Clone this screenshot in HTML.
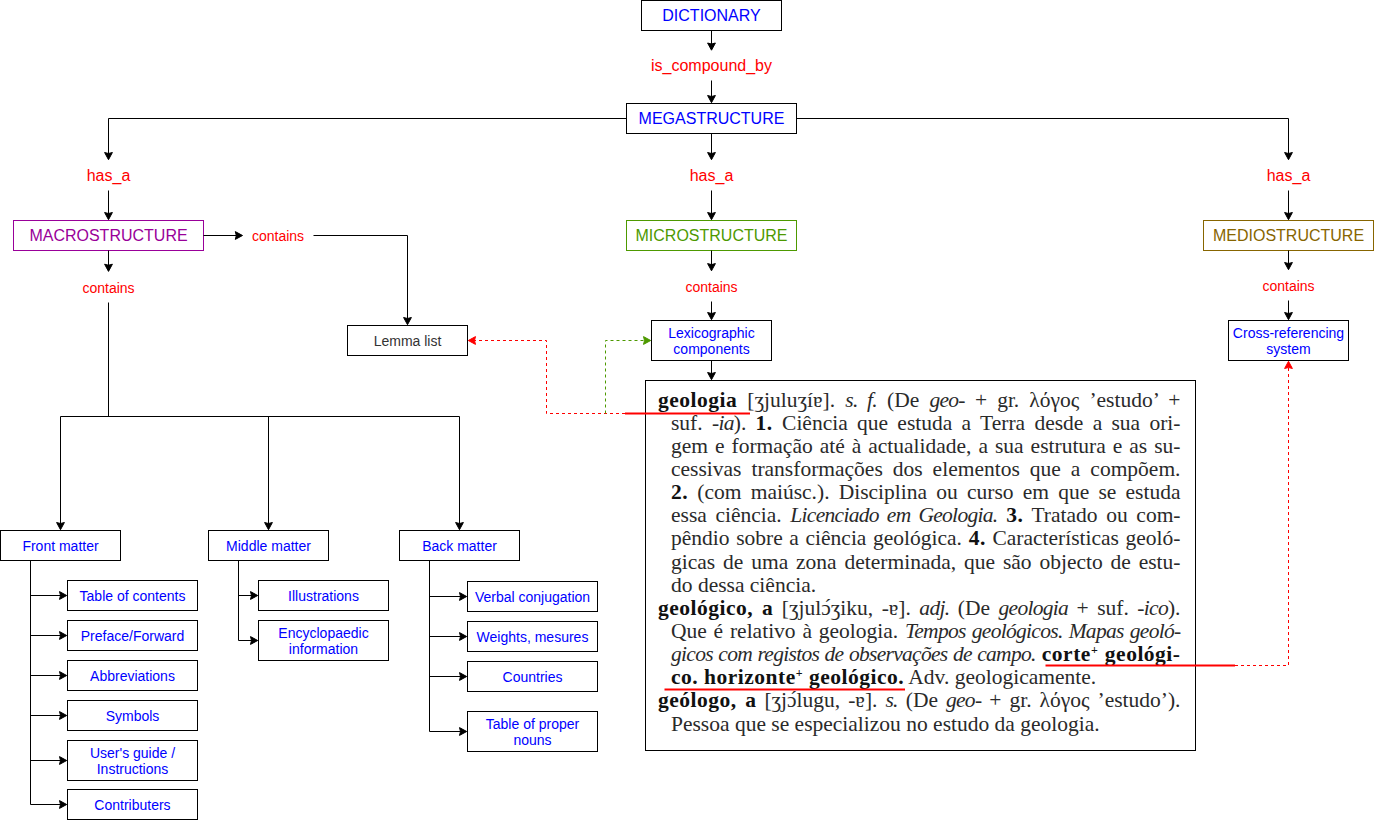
<!DOCTYPE html>
<html><head><meta charset="utf-8"><style>
html,body{margin:0;padding:0;background:#fff;width:1374px;height:820px;overflow:hidden}
svg{position:absolute;left:0;top:0}
svg text{font-family:"Liberation Sans",sans-serif}
.ln{position:absolute;font-family:"Liberation Serif",serif;font-size:21.5px;line-height:24px;color:#2a2a2a;white-space:nowrap}
.sp{font-size:12px;position:relative;top:-7px;line-height:0}
.ac{position:relative} .ac:after{content:'´';position:absolute;left:3px;top:-1px}
.ln b{letter-spacing:0.5px;color:#111} .ln i{letter-spacing:-0.7px}
</style></head><body>
<svg width="1374" height="820" viewBox="0 0 1374 820"><rect x="641.5" y="0.5" width="140" height="30" fill="#fff" stroke="#000" stroke-width="1"/><text x="711.5" y="21" fill="#0000FF" font-size="16" text-anchor="middle">DICTIONARY</text><path d="M 711.5 30.5 L 711.5 45.2" fill="none" stroke="#000" stroke-width="1"/><path d="M 711.5 50.2 L 707.6 43.0 L 711.5 44.0 L 715.4 43.0 Z" fill="#000" stroke="#000" stroke-width="1"/><text x="711.5" y="71" fill="#FF0000" font-size="16" text-anchor="middle">is_compound_by</text><path d="M 711.5 80.5 L 711.5 97.7" fill="none" stroke="#000" stroke-width="1"/><path d="M 711.5 102.7 L 707.6 95.5 L 711.5 96.5 L 715.4 95.5 Z" fill="#000" stroke="#000" stroke-width="1"/><rect x="626.5" y="103.5" width="170" height="30" fill="#fff" stroke="#000" stroke-width="1"/><text x="711.5" y="124" fill="#0000FF" font-size="16" text-anchor="middle">MEGASTRUCTURE</text><path d="M 626.5 118.5 L 108.5 118.5 L 108.5 154.7" fill="none" stroke="#000" stroke-width="1"/><path d="M 108.5 159.7 L 104.6 152.5 L 108.5 153.5 L 112.4 152.5 Z" fill="#000" stroke="#000" stroke-width="1"/><path d="M 711.5 133.5 L 711.5 154.7" fill="none" stroke="#000" stroke-width="1"/><path d="M 711.5 159.7 L 707.6 152.5 L 711.5 153.5 L 715.4 152.5 Z" fill="#000" stroke="#000" stroke-width="1"/><path d="M 796.5 118.5 L 1288.5 118.5 L 1288.5 154.7" fill="none" stroke="#000" stroke-width="1"/><path d="M 1288.5 159.7 L 1284.6 152.5 L 1288.5 153.5 L 1292.4 152.5 Z" fill="#000" stroke="#000" stroke-width="1"/><text x="108.5" y="181" fill="#FF0000" font-size="16" text-anchor="middle">has_a</text><path d="M 108.5 190.5 L 108.5 214.7" fill="none" stroke="#000" stroke-width="1"/><path d="M 108.5 219.7 L 104.6 212.5 L 108.5 213.5 L 112.4 212.5 Z" fill="#000" stroke="#000" stroke-width="1"/><text x="711.5" y="181" fill="#FF0000" font-size="16" text-anchor="middle">has_a</text><path d="M 711.5 190.5 L 711.5 214.7" fill="none" stroke="#000" stroke-width="1"/><path d="M 711.5 219.7 L 707.6 212.5 L 711.5 213.5 L 715.4 212.5 Z" fill="#000" stroke="#000" stroke-width="1"/><text x="1288.5" y="181" fill="#FF0000" font-size="16" text-anchor="middle">has_a</text><path d="M 1288.5 190.5 L 1288.5 214.7" fill="none" stroke="#000" stroke-width="1"/><path d="M 1288.5 219.7 L 1284.6 212.5 L 1288.5 213.5 L 1292.4 212.5 Z" fill="#000" stroke="#000" stroke-width="1"/><rect x="13.5" y="220.5" width="190" height="30" fill="#fff" stroke="#990099" stroke-width="1"/><text x="108.5" y="241" fill="#990099" font-size="16" text-anchor="middle">MACROSTRUCTURE</text><rect x="626.5" y="220.5" width="170" height="30" fill="#fff" stroke="#4D9900" stroke-width="1"/><text x="711.5" y="241" fill="#4D9900" font-size="16" text-anchor="middle">MICROSTRUCTURE</text><rect x="1203.5" y="220.5" width="170" height="30" fill="#fff" stroke="#876500" stroke-width="1"/><text x="1288.5" y="241" fill="#876500" font-size="16" text-anchor="middle">MEDIOSTRUCTURE</text><path d="M 203.5 235.5 L 237.5 235.5" fill="none" stroke="#000" stroke-width="1"/><path d="M 242.5 235.5 L 235.3 231.6 L 236.3 235.5 L 235.3 239.4 Z" fill="#000" stroke="#000" stroke-width="1"/><text x="278" y="241" fill="#FF0000" font-size="14" text-anchor="middle">contains</text><path d="M 313.5 235.5 L 407.5 235.5 L 407.5 319.7" fill="none" stroke="#000" stroke-width="1"/><path d="M 407.5 324.7 L 403.6 317.5 L 407.5 318.5 L 411.4 317.5 Z" fill="#000" stroke="#000" stroke-width="1"/><rect x="347.5" y="325.5" width="120" height="30" fill="#fff" stroke="#000" stroke-width="1"/><text x="407.5" y="346" fill="#333333" font-size="14" text-anchor="middle">Lemma list</text><path d="M 108.5 250.5 L 108.5 266.4" fill="none" stroke="#000" stroke-width="1"/><path d="M 108.5 271.4 L 104.6 264.2 L 108.5 265.2 L 112.4 264.2 Z" fill="#000" stroke="#000" stroke-width="1"/><text x="108.5" y="293" fill="#FF0000" font-size="14" text-anchor="middle">contains</text><path d="M 108.5 302.5 L 108.5 416.5" fill="none" stroke="#000" stroke-width="1"/><path d="M 60.5 416.5 L 459.5 416.5" fill="none" stroke="#000" stroke-width="1"/><path d="M 60.5 416.5 L 60.5 524.7" fill="none" stroke="#000" stroke-width="1"/><path d="M 60.5 529.7 L 56.6 522.5 L 60.5 523.5 L 64.4 522.5 Z" fill="#000" stroke="#000" stroke-width="1"/><path d="M 268.5 416.5 L 268.5 524.7" fill="none" stroke="#000" stroke-width="1"/><path d="M 268.5 529.7 L 264.6 522.5 L 268.5 523.5 L 272.4 522.5 Z" fill="#000" stroke="#000" stroke-width="1"/><path d="M 459.5 416.5 L 459.5 524.7" fill="none" stroke="#000" stroke-width="1"/><path d="M 459.5 529.7 L 455.6 522.5 L 459.5 523.5 L 463.4 522.5 Z" fill="#000" stroke="#000" stroke-width="1"/><rect x="0.5" y="530.5" width="120" height="30" fill="#fff" stroke="#000" stroke-width="1"/><text x="60.5" y="551" fill="#0000FF" font-size="14" text-anchor="middle">Front matter</text><rect x="208.5" y="530.5" width="120" height="30" fill="#fff" stroke="#000" stroke-width="1"/><text x="268.5" y="551" fill="#0000FF" font-size="14" text-anchor="middle">Middle matter</text><rect x="399.5" y="530.5" width="120" height="30" fill="#fff" stroke="#000" stroke-width="1"/><text x="459.5" y="551" fill="#0000FF" font-size="14" text-anchor="middle">Back matter</text><path d="M 30.5 560.5 L 30.5 804.5" fill="none" stroke="#000" stroke-width="1"/><path d="M 30.5 595.5 L 61.7 595.5" fill="none" stroke="#000" stroke-width="1"/><path d="M 66.7 595.5 L 59.5 591.6 L 60.5 595.5 L 59.5 599.4 Z" fill="#000" stroke="#000" stroke-width="1"/><rect x="67.5" y="580.5" width="130" height="30" fill="#fff" stroke="#000" stroke-width="1"/><text x="132.5" y="600.7" fill="#0000FF" font-size="14" text-anchor="middle">Table of contents</text><path d="M 30.5 635.5 L 61.7 635.5" fill="none" stroke="#000" stroke-width="1"/><path d="M 66.7 635.5 L 59.5 631.6 L 60.5 635.5 L 59.5 639.4 Z" fill="#000" stroke="#000" stroke-width="1"/><rect x="67.5" y="620.5" width="130" height="30" fill="#fff" stroke="#000" stroke-width="1"/><text x="132.5" y="640.7" fill="#0000FF" font-size="14" text-anchor="middle">Preface/Forward</text><path d="M 30.5 675.5 L 61.7 675.5" fill="none" stroke="#000" stroke-width="1"/><path d="M 66.7 675.5 L 59.5 671.6 L 60.5 675.5 L 59.5 679.4 Z" fill="#000" stroke="#000" stroke-width="1"/><rect x="67.5" y="660.5" width="130" height="30" fill="#fff" stroke="#000" stroke-width="1"/><text x="132.5" y="680.7" fill="#0000FF" font-size="14" text-anchor="middle">Abbreviations</text><path d="M 30.5 715.5 L 61.7 715.5" fill="none" stroke="#000" stroke-width="1"/><path d="M 66.7 715.5 L 59.5 711.6 L 60.5 715.5 L 59.5 719.4 Z" fill="#000" stroke="#000" stroke-width="1"/><rect x="67.5" y="700.5" width="130" height="30" fill="#fff" stroke="#000" stroke-width="1"/><text x="132.5" y="720.7" fill="#0000FF" font-size="14" text-anchor="middle">Symbols</text><path d="M 30.5 760.5 L 61.7 760.5" fill="none" stroke="#000" stroke-width="1"/><path d="M 66.7 760.5 L 59.5 756.6 L 60.5 760.5 L 59.5 764.4 Z" fill="#000" stroke="#000" stroke-width="1"/><rect x="67.5" y="740.5" width="130" height="40" fill="#fff" stroke="#000" stroke-width="1"/><text x="132.5" y="757.9" fill="#0000FF" font-size="14" text-anchor="middle">User's guide /</text><text x="132.5" y="773.5" fill="#0000FF" font-size="14" text-anchor="middle">Instructions</text><path d="M 30.5 804.5 L 61.7 804.5" fill="none" stroke="#000" stroke-width="1"/><path d="M 66.7 804.5 L 59.5 800.6 L 60.5 804.5 L 59.5 808.4 Z" fill="#000" stroke="#000" stroke-width="1"/><rect x="67.5" y="789.5" width="130" height="30" fill="#fff" stroke="#000" stroke-width="1"/><text x="132.5" y="809.7" fill="#0000FF" font-size="14" text-anchor="middle">Contributers</text><path d="M 238.5 560.5 L 238.5 640.5" fill="none" stroke="#000" stroke-width="1"/><path d="M 238.5 595.5 L 252.7 595.5" fill="none" stroke="#000" stroke-width="1"/><path d="M 257.7 595.5 L 250.5 591.6 L 251.5 595.5 L 250.5 599.4 Z" fill="#000" stroke="#000" stroke-width="1"/><rect x="258.5" y="580.5" width="130" height="30" fill="#fff" stroke="#000" stroke-width="1"/><text x="323.5" y="600.7" fill="#0000FF" font-size="14" text-anchor="middle">Illustrations</text><path d="M 238.5 640.5 L 252.7 640.5" fill="none" stroke="#000" stroke-width="1"/><path d="M 257.7 640.5 L 250.5 636.6 L 251.5 640.5 L 250.5 644.4 Z" fill="#000" stroke="#000" stroke-width="1"/><rect x="258.5" y="620.5" width="130" height="40" fill="#fff" stroke="#000" stroke-width="1"/><text x="323.5" y="637.9" fill="#0000FF" font-size="14" text-anchor="middle">Encyclopaedic</text><text x="323.5" y="653.5" fill="#0000FF" font-size="14" text-anchor="middle">information</text><path d="M 429.5 560.5 L 429.5 731.5" fill="none" stroke="#000" stroke-width="1"/><path d="M 429.5 596.5 L 461.7 596.5" fill="none" stroke="#000" stroke-width="1"/><path d="M 466.7 596.5 L 459.5 592.6 L 460.5 596.5 L 459.5 600.4 Z" fill="#000" stroke="#000" stroke-width="1"/><rect x="467.5" y="581.5" width="130" height="30" fill="#fff" stroke="#000" stroke-width="1"/><text x="532.5" y="601.7" fill="#0000FF" font-size="14" text-anchor="middle">Verbal conjugation</text><path d="M 429.5 636.5 L 461.7 636.5" fill="none" stroke="#000" stroke-width="1"/><path d="M 466.7 636.5 L 459.5 632.6 L 460.5 636.5 L 459.5 640.4 Z" fill="#000" stroke="#000" stroke-width="1"/><rect x="467.5" y="621.5" width="130" height="30" fill="#fff" stroke="#000" stroke-width="1"/><text x="532.5" y="641.7" fill="#0000FF" font-size="14" text-anchor="middle">Weights, mesures</text><path d="M 429.5 676.5 L 461.7 676.5" fill="none" stroke="#000" stroke-width="1"/><path d="M 466.7 676.5 L 459.5 672.6 L 460.5 676.5 L 459.5 680.4 Z" fill="#000" stroke="#000" stroke-width="1"/><rect x="467.5" y="661.5" width="130" height="30" fill="#fff" stroke="#000" stroke-width="1"/><text x="532.5" y="681.7" fill="#0000FF" font-size="14" text-anchor="middle">Countries</text><path d="M 429.5 731.5 L 461.7 731.5" fill="none" stroke="#000" stroke-width="1"/><path d="M 466.7 731.5 L 459.5 727.6 L 460.5 731.5 L 459.5 735.4 Z" fill="#000" stroke="#000" stroke-width="1"/><rect x="467.5" y="711.5" width="130" height="40" fill="#fff" stroke="#000" stroke-width="1"/><text x="532.5" y="728.9" fill="#0000FF" font-size="14" text-anchor="middle">Table of proper</text><text x="532.5" y="744.5" fill="#0000FF" font-size="14" text-anchor="middle">nouns</text><path d="M 711.5 250.5 L 711.5 265.8" fill="none" stroke="#000" stroke-width="1"/><path d="M 711.5 270.8 L 707.6 263.6 L 711.5 264.6 L 715.4 263.6 Z" fill="#000" stroke="#000" stroke-width="1"/><text x="711.5" y="292" fill="#FF0000" font-size="14" text-anchor="middle">contains</text><path d="M 711.5 301.5 L 711.5 314.7" fill="none" stroke="#000" stroke-width="1"/><path d="M 711.5 319.7 L 707.6 312.5 L 711.5 313.5 L 715.4 312.5 Z" fill="#000" stroke="#000" stroke-width="1"/><rect x="651.5" y="320.5" width="120" height="40" fill="#fff" stroke="#000" stroke-width="1"/><text x="711.5" y="337.5" fill="#0000FF" font-size="14" text-anchor="middle">Lexicographic</text><text x="711.5" y="353.6" fill="#0000FF" font-size="14" text-anchor="middle">components</text><path d="M 711.5 360.5 L 711.5 374.7" fill="none" stroke="#000" stroke-width="1"/><path d="M 711.5 379.7 L 707.6 372.5 L 711.5 373.5 L 715.4 372.5 Z" fill="#000" stroke="#000" stroke-width="1"/><path d="M 1288.5 250.5 L 1288.5 264.7" fill="none" stroke="#000" stroke-width="1"/><path d="M 1288.5 269.7 L 1284.6 262.5 L 1288.5 263.5 L 1292.4 262.5 Z" fill="#000" stroke="#000" stroke-width="1"/><text x="1288.5" y="291" fill="#FF0000" font-size="14" text-anchor="middle">contains</text><path d="M 1288.5 300.5 L 1288.5 314.7" fill="none" stroke="#000" stroke-width="1"/><path d="M 1288.5 319.7 L 1284.6 312.5 L 1288.5 313.5 L 1292.4 312.5 Z" fill="#000" stroke="#000" stroke-width="1"/><rect x="1228.5" y="320.5" width="120" height="40" fill="#fff" stroke="#000" stroke-width="1"/><text x="1288.5" y="338" fill="#0000FF" font-size="14" text-anchor="middle">Cross-referencing</text><text x="1288.5" y="353.5" fill="#0000FF" font-size="14" text-anchor="middle">system</text><rect x="645.5" y="380.5" width="550" height="370" fill="#fff" stroke="#000" stroke-width="1"/></svg>
<div class="ln" style="left:658px;top:387.50px;word-spacing:4.736px"><b>geologia</b> [ʒjuluʒíɐ]. <i>s. f.</i> (De <i>geo-</i> + gr. λόγος ’estudo’ +</div><div class="ln" style="left:671px;top:410.65px;word-spacing:3.929px">suf. <i>-ia</i>). <b>1.</b> Ciência que estuda a Terra desde a sua ori-</div><div class="ln" style="left:671px;top:433.80px;word-spacing:1.602px">gem e formação até à actualidade, a sua estrutura e as su-</div><div class="ln" style="left:671px;top:456.95px;word-spacing:4.615px">cessivas transformações dos elementos que a compõem.</div><div class="ln" style="left:671px;top:480.10px;word-spacing:3.825px"><b>2.</b> (com maiúsc.). Disciplina ou curso em que se estuda</div><div class="ln" style="left:671px;top:503.25px;word-spacing:3.252px">essa ciência. <i>Licenciado em Geologia.</i> <b>3.</b> Tratado ou com-</div><div class="ln" style="left:671px;top:526.40px;word-spacing:1.259px">pêndio sobre a ciência geológica. <b>4.</b> Características geoló-</div><div class="ln" style="left:671px;top:549.55px;word-spacing:2.483px">gicas de uma zona determinada, que são objecto de estu-</div><div class="ln" style="left:671px;top:572.70px;word-spacing:0.000px">do dessa ciência.</div><div class="ln" style="left:658px;top:595.85px;word-spacing:3.078px"><b>geológico, a</b> [ʒjul<span class=ac>ɔ</span>ʒiku, -ɐ]. <i>adj.</i> (De <i>geologia</i> + suf. <i>-ico</i>).</div><div class="ln" style="left:671px;top:619.00px;word-spacing:1.414px">Que é relativo à geologia. <i>Tempos geológicos. Mapas geoló-</i></div><div class="ln" style="left:671px;top:642.15px;word-spacing:0.750px"><i>gicos com registos de observações de campo.</i> <b>corte<span class=sp>+</span> geológi-</b></div><div class="ln" style="left:671px;top:665.30px;word-spacing:0.000px"><b>co. horizonte<span class=sp>+</span> geológico.</b> Adv. geologicamente.</div><div class="ln" style="left:658px;top:688.45px;word-spacing:2.612px"><b>geólogo, a</b> [ʒj<span class=ac>ɔ</span>lugu, -ɐ]. <i>s.</i> (De <i>geo-</i> + gr. λόγος ’estudo’).</div><div class="ln" style="left:671px;top:711.60px;word-spacing:0.000px">Pessoa que se especializou no estudo da geologia.</div>
<svg width="1374" height="820" viewBox="0 0 1374 820"><path d="M 625 413.5 L 546.5 413.5 L 546.5 340.5 L 473.3 340.5" fill="none" stroke="#FF0000" stroke-width="1" stroke-dasharray="3 3"/><path d="M 468.3 340.5 L 475.5 336.6 L 474.5 340.5 L 475.5 344.4 Z" fill="#FF0000" stroke="#FF0000" stroke-width="1"/><path d="M 605.5 413.5 L 605.5 340.5 L 645.7 340.5" fill="none" stroke="#4D9900" stroke-width="1" stroke-dasharray="3 3"/><path d="M 650.7 340.5 L 643.5 336.6 L 644.5 340.5 L 643.5 344.4 Z" fill="#4D9900" stroke="#4D9900" stroke-width="1"/><path d="M 1235 665.5 L 1288.5 665.5 L 1288.5 366.3" fill="none" stroke="#FF0000" stroke-width="1" stroke-dasharray="3 3"/><path d="M 1288.5 361.3 L 1284.6 368.5 L 1288.5 367.5 L 1292.4 368.5 Z" fill="#FF0000" stroke="#FF0000" stroke-width="1"/><path d="M 625 413.5 L 750 413.5" fill="none" stroke="#FF0000" stroke-width="2"/><path d="M 1045.5 665.5 L 1235 665.5" fill="none" stroke="#FF0000" stroke-width="2"/><path d="M 664.5 689.5 L 905 689.5" fill="none" stroke="#FF0000" stroke-width="2"/></svg>
</body></html>
